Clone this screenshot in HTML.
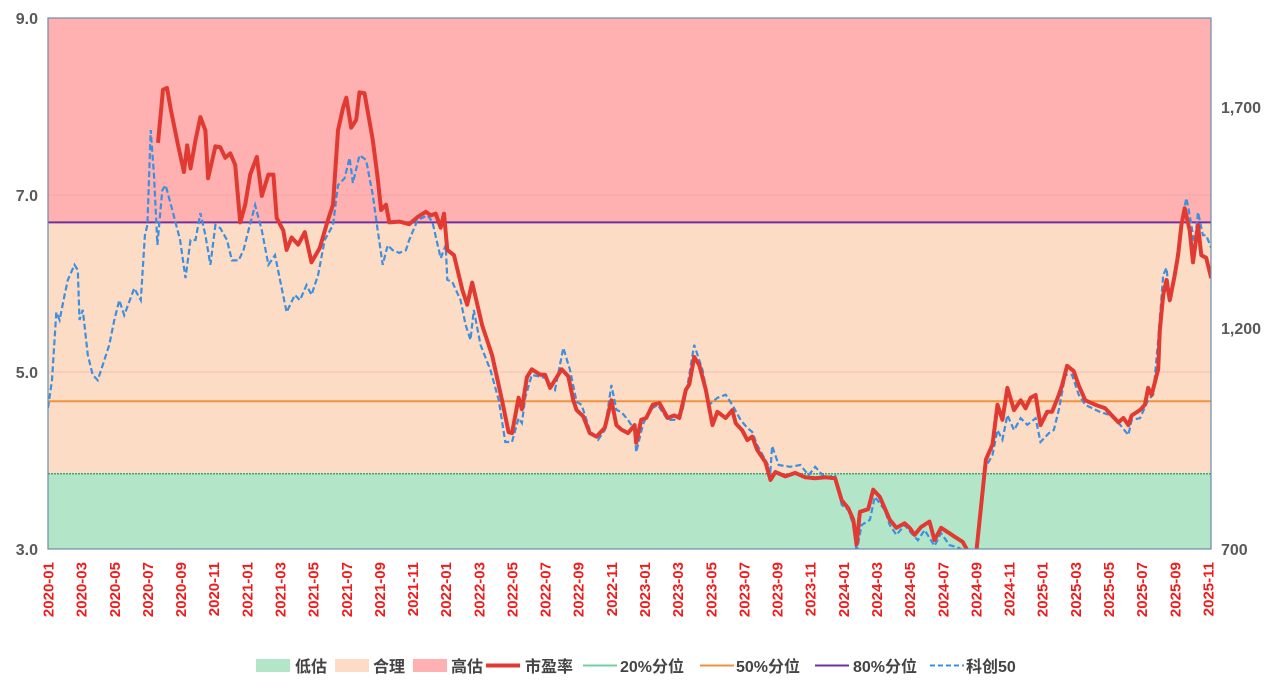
<!DOCTYPE html>
<html><head><meta charset="utf-8">
<style>
body{margin:0;background:#fff;width:1280px;height:694px;overflow:hidden;font-family:"Liberation Sans","Noto Sans CJK SC",sans-serif;}
svg text{font-family:"Liberation Sans","Noto Sans CJK SC",sans-serif;}
</style></head><body>
<svg id="chart" width="1280" height="694" xmlns="http://www.w3.org/2000/svg"></svg>
<script>
// ---- data ----
const leftTicks = [3.0, 5.0, 7.0, 9.0];
const rightTicks = [700, 1200, 1700];
const bandLow = 3.85;   // 20% percentile
const bandMid = 4.67;   // 50% percentile
const bandHigh = 6.69;  // 80% percentile
const xLabels = ["2020-01","2020-03","2020-05","2020-07","2020-09","2020-11","2021-01","2021-03","2021-05","2021-07","2021-09","2021-11","2022-01","2022-03","2022-05","2022-07","2022-09","2022-11","2023-01","2023-03","2023-05","2023-07","2023-09","2023-11","2024-01","2024-03","2024-05","2024-07","2024-09","2024-11","2025-01","2025-03","2025-05","2025-07","2025-09","2025-11"];
// months since 2020-01
const peMonths = [6.64,6.94,7.18,7.42,7.85,8.2,8.4,8.6,8.9,9.2,9.5,9.66,10.1,10.4,10.7,11.0,11.3,11.6,11.9,12.2,12.6,12.9,13.3,13.6,13.8,14.2,14.4,14.7,15.1,15.5,15.9,16.4,16.9,17.2,17.5,17.8,18.0,18.3,18.6,18.8,19.1,19.6,19.9,20.1,20.4,20.6,21.2,21.8,22.3,22.8,23.1,23.4,23.7,23.9,24.1,24.5,25.0,25.3,25.6,26.2,26.8,27.4,27.8,28.0,28.4,28.6,28.9,29.2,29.7,30.0,30.3,30.6,31.0,31.4,31.7,31.9,32.3,32.7,33.1,33.6,34.0,34.3,34.6,35.0,35.4,35.5,35.8,36.1,36.5,36.9,37.4,37.8,38.1,38.5,38.7,39.0,39.3,39.7,40.1,40.4,40.9,41.3,41.5,41.9,42.2,42.5,42.8,43.3,43.6,43.9,44.5,45.1,45.7,46.3,46.9,47.5,47.9,48.3,48.6,48.8,49.0,49.5,49.8,50.2,50.5,50.8,51.2,51.7,52.0,52.3,52.7,53.2,53.5,53.9,54.3,54.7,55.2,55.5,56.0,56.6,57.0,57.3,57.6,57.9,58.3,58.7,59.0,59.3,59.6,59.9,60.3,60.6,61.0,61.2,61.5,61.9,62.2,62.6,63.2,63.8,64.2,64.6,64.9,65.2,65.4,65.9,66.2,66.4,66.6,67.0,67.1,67.3,67.5,67.7,68.0,68.2,68.4,68.6,68.9,69.1,69.4,69.6,69.9,70.2];
const peValues = [7.59,8.19,8.21,7.96,7.56,7.26,7.56,7.30,7.62,7.88,7.73,7.19,7.55,7.54,7.42,7.47,7.34,6.69,6.89,7.23,7.43,6.99,7.23,7.23,6.74,6.60,6.38,6.52,6.44,6.58,6.24,6.40,6.72,6.89,7.73,7.98,8.10,7.76,7.85,8.16,8.15,7.62,7.19,6.83,6.89,6.69,6.70,6.67,6.75,6.81,6.77,6.79,6.63,6.79,6.38,6.32,5.93,5.76,6.01,5.53,5.19,4.68,4.32,4.31,4.71,4.58,4.94,5.03,4.97,4.97,4.82,4.91,5.03,4.95,4.68,4.57,4.50,4.31,4.27,4.37,4.68,4.40,4.35,4.31,4.40,4.20,4.46,4.48,4.63,4.65,4.48,4.51,4.48,4.80,4.86,5.17,5.08,4.80,4.40,4.55,4.48,4.57,4.42,4.34,4.23,4.27,4.12,3.98,3.78,3.87,3.82,3.86,3.81,3.80,3.81,3.80,3.55,3.46,3.33,3.05,3.42,3.45,3.67,3.59,3.46,3.33,3.24,3.29,3.24,3.16,3.25,3.31,3.10,3.24,3.19,3.14,3.08,2.98,2.92,4.01,4.18,4.63,4.46,4.82,4.57,4.68,4.59,4.71,4.74,4.40,4.55,4.55,4.74,4.85,5.07,5.01,4.85,4.68,4.63,4.59,4.51,4.43,4.48,4.40,4.51,4.57,4.63,4.82,4.74,5.03,5.47,5.87,6.04,5.81,6.10,6.32,6.66,6.85,6.60,6.24,6.66,6.32,6.29,6.06];
const idxMonths = [0,0.24,0.5,0.7,1.0,1.2,1.6,1.8,1.9,2.1,2.4,2.7,3.0,3.3,3.7,4.0,4.3,4.6,4.9,5.2,5.6,5.85,6.0,6.2,6.4,6.6,6.9,7.1,7.5,7.97,8.3,8.6,8.9,9.2,9.5,9.8,10.1,10.4,10.8,11.1,11.5,11.8,12.1,12.5,12.9,13.3,13.7,14.0,14.4,14.9,15.2,15.6,15.9,16.3,16.7,17.2,17.5,17.9,18.2,18.4,18.8,19.2,19.6,19.9,20.2,20.5,20.8,21.2,21.6,21.8,22.3,22.9,23.2,23.7,24.0,24.1,24.4,24.9,25.2,25.5,25.7,26.1,26.7,27.2,27.6,28.0,28.4,28.6,28.8,29.2,30.0,30.6,31.1,31.5,31.9,32.2,32.7,33.2,33.6,34.0,34.3,34.6,35.0,35.4,35.5,35.9,36.3,36.8,37.4,37.8,38.3,38.6,39.0,39.5,39.9,40.4,40.9,41.3,41.8,42.2,42.5,42.8,43.3,43.6,43.7,44.1,44.8,45.4,45.9,46.3,46.9,47.5,47.9,48.3,48.6,48.8,49.1,49.6,49.9,50.5,50.8,51.2,51.7,52.1,52.5,52.9,53.5,53.9,54.4,55.0,55.5,56.0,56.5,57.0,57.3,57.6,57.9,58.3,58.7,59.1,59.6,59.9,60.4,60.7,61.0,61.4,61.8,62.2,62.6,63.5,64.1,64.7,65.2,65.4,65.9,66.4,66.7,67.0,67.3,67.5,67.7,68.1,68.4,68.7,68.9,69.2,69.4,69.7,69.9,70.2];
const idxValues = [1019,1082,1236,1218,1275,1309,1343,1331,1218,1241,1139,1094,1082,1116,1162,1218,1263,1229,1259,1290,1263,1410,1433,1648,1546,1388,1512,1523,1467,1399,1313,1399,1399,1460,1410,1343,1433,1426,1399,1353,1353,1376,1421,1478,1421,1343,1365,1309,1236,1275,1263,1297,1275,1320,1399,1433,1523,1539,1585,1528,1591,1580,1501,1421,1343,1387,1376,1370,1376,1399,1444,1455,1440,1358,1387,1309,1304,1263,1207,1173,1241,1162,1105,1037,942,942,996,985,1042,1094,1087,1060,1155,1105,1033,1026,969,947,969,1071,1015,1010,992,969,919,981,1015,1026,992,992,1015,1071,1162,1105,1026,1042,1049,1026,992,974,965,935,901,879,933,890,886,890,867,886,861,867,800,788,754,693,754,766,818,788,754,732,754,736,720,743,707,736,709,702,690,680,879,913,969,947,1003,969,996,981,996,942,962,969,1015,1094,1094,1049,1026,1010,1003,981,958,992,996,1037,1049,1173,1320,1336,1263,1354,1440,1494,1455,1388,1462,1410,1410,1381];

// ---- layout ----
const L=48,R=1211,T=18,B=549, MW=16.57;
const NS="http://www.w3.org/2000/svg";
const svg=document.getElementById('chart');
const x=m=>L+m*MW;
const yL=v=>B-(v-3)/(9-3)*(B-T);
const yR=v=>B-(v-700)*0.442;
function mk(tag,attrs,parent){const e=document.createElementNS(NS,tag);for(const k in attrs)e.setAttribute(k,attrs[k]);(parent||svg).appendChild(e);return e;}

const defs=mk('defs',{});
const cp=mk('clipPath',{id:'plotclip'},defs);
mk('rect',{x:L,y:T,width:R-L,height:B-T},cp);

let e;
e=mk('rect',{x:L,y:T,width:R-L,height:yL(bandHigh)-T,fill:'#ffb0b0'});


e=mk('rect',{x:L,y:yL(bandHigh),width:R-L,height:yL(bandLow)-yL(bandHigh),fill:'#fddcc5'});


e=mk('rect',{x:L,y:yL(bandLow),width:R-L,height:B-yL(bandLow),fill:'#b3e6c9'});



// gridlines
leftTicks.forEach(v=>{
  if(v>3&&v<9){e=mk('line',{x1:L,x2:R,y1:yL(v),y2:yL(v),stroke:'#e8a0a0','stroke-opacity':0.5,'stroke-width':1});
  
  }
  e=mk('text',{x:38,y:yL(v)+6,'text-anchor':'end','font-size':16,'font-weight':'bold',fill:'#595959'});
  e.textContent=v.toFixed(1);
  
  
});
rightTicks.forEach(v=>{
  e=mk('text',{x:1221,y:yR(v)+6,'font-size':16,'font-weight':'bold',fill:'#595959'});
  e.textContent=v.toLocaleString('en-US');
  
  
});

// percentile lines
e=mk('line',{x1:L,x2:R,y1:yL(bandLow),y2:yL(bandLow),stroke:'#3aa86a','stroke-width':1.5,'stroke-dasharray':'2,1'});


e=mk('line',{x1:L,x2:R,y1:yL(bandMid),y2:yL(bandMid),stroke:'#f0913f','stroke-width':2});


e=mk('line',{x1:L,x2:R,y1:yL(bandHigh),y2:yL(bandHigh),stroke:'#7030a0','stroke-width':2});



// series
const g=mk('g',{'clip-path':'url(#plotclip)'});
let d=idxMonths.map((m,i)=>(i?'L':'M')+x(m).toFixed(1)+','+yR(idxValues[i]).toFixed(1)).join('');
e=mk('path',{d:d,fill:'none',stroke:'#3d8fe0','stroke-width':2.2,'stroke-dasharray':'6,3'},g);


d=peMonths.map((m,i)=>(i?'L':'M')+x(m).toFixed(1)+','+yL(peValues[i]).toFixed(1)).join('');
e=mk('path',{d:d,fill:'none',stroke:'#e03a32','stroke-width':4,'stroke-linejoin':'round'},g);



// frame
e=mk('rect',{x:L,y:T,width:R-L,height:B-T,fill:'none',stroke:'#6a8cab','stroke-width':1.2});



// x labels
xLabels.forEach((s,i)=>{
  const xx=x(i*2)+5.5;
  e=mk('text',{x:0,y:0,transform:`translate(${xx},562) rotate(-90)`,'text-anchor':'end','font-size':15,'font-weight':'bold',fill:'#ee1c1c'});
  e.textContent=s;
  
  
});

// legend
const leg=mk('g',{});


const items=[
 {t:'低估',k:'rect',c:'#b3e6c9',x:256,tx:295,n:'legend-low'},
 {t:'合理',k:'rect',c:'#fddcc5',x:335,tx:373,n:'legend-fair'},
 {t:'高估',k:'rect',c:'#ffb0b0',x:413,tx:451,n:'legend-high'},
 {t:'市盈率',k:'line',c:'#e03a32',w:4,x:486,tx:525,n:'legend-pe'},
 {t:'20%分位',k:'line',c:'#6fd1a0',w:2,x:583,tx:620,n:'legend-p20'},
 {t:'50%分位',k:'line',c:'#f0913f',w:2,x:700,tx:736,n:'legend-p50'},
 {t:'80%分位',k:'line',c:'#7030a0',w:2,x:815,tx:853,n:'legend-p80'},
 {t:'科创50',k:'dash',c:'#3d8fe0',w:2,x:930,tx:966,n:'legend-kechuang50'}
];
items.forEach(it=>{
  const gi=mk('g',{},leg);
  
  
  if(it.k==='rect') mk('rect',{x:it.x,y:659,width:34,height:13,fill:it.c},gi);
  else mk('line',{x1:it.x,x2:it.x+34,y1:665.5,y2:665.5,stroke:it.c,'stroke-width':it.w,'stroke-dasharray':it.k==='dash'?'5,3':'none'},gi);
  const tx=mk('text',{x:it.tx,y:672,'font-size':16,'font-weight':'bold',fill:'#444'},gi);
  tx.textContent=it.t;
});
</script>
</body></html>
